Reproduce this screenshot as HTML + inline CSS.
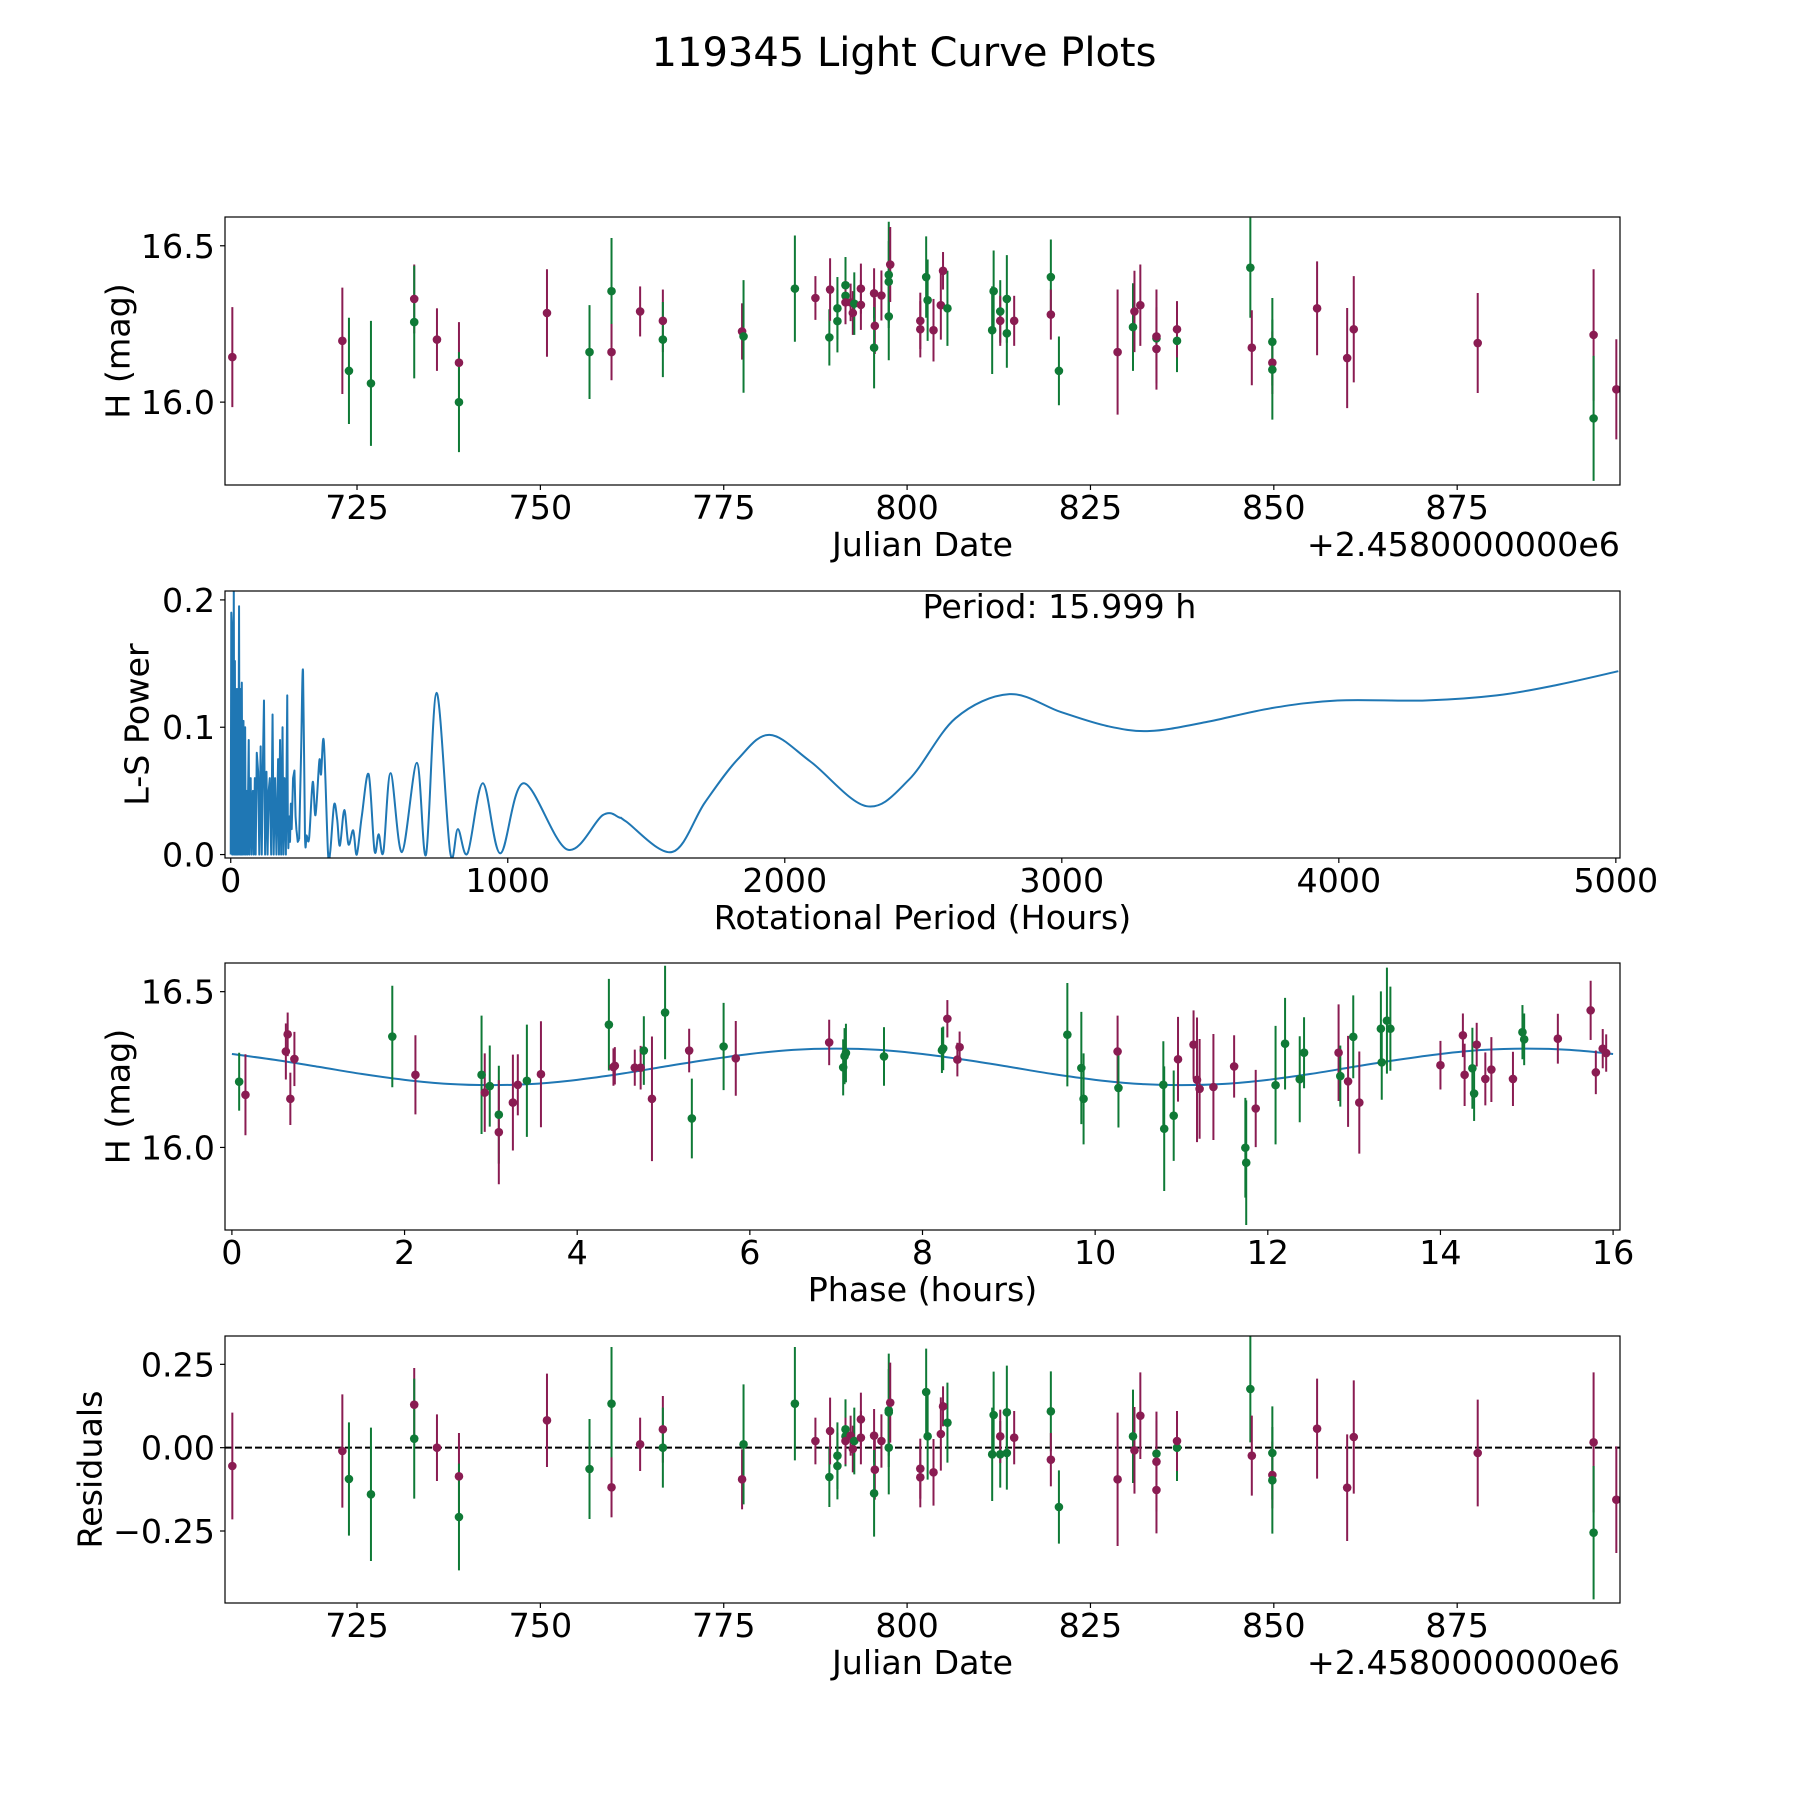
<!DOCTYPE html>
<html><head><meta charset="utf-8"><style>
html,body{margin:0;padding:0;background:#fff;}
svg{display:block;font-family:"DejaVu Sans","Liberation Sans",sans-serif;}
</style></head><body>
<svg id="fig" width="1800" height="1800" viewBox="0 0 1800 1800" xmlns="http://www.w3.org/2000/svg">
<rect width="1800" height="1800" fill="#fff"/>
<text x="904" y="66" font-size="40" text-anchor="middle">119345 Light Curve Plots</text>
</svg>
<script>
// ---------- DATA ----------
const dates = [708.0,723.0,723.9,726.9,732.8,732.8,735.9,738.9,738.9,750.9,756.7,759.7,759.7,763.6,766.7,766.7,777.5,777.7,784.7,787.5,789.4,789.5,790.5,790.5,791.6,791.6,791.6,792.3,792.6,792.8,793.7,793.7,795.5,795.6,795.5,796.5,797.5,797.5,797.5,797.7,801.8,801.8,802.6,802.8,803.6,804.6,804.9,805.5,811.8,811.6,812.7,812.7,813.6,813.6,814.6,819.6,819.6,820.7,828.7,830.8,831.0,831.8,834.0,834.0,834.0,836.8,836.8,846.8,847.0,849.8,849.8,849.8,855.9,860.0,860.9,877.8,893.6,893.6,896.7];
const mags = [16.144,16.196,16.10,16.06,16.33,16.256,16.20,16.126,16.0,16.285,16.16,16.355,16.16,16.29,16.26,16.20,16.226,16.21,16.363,16.333,16.207,16.36,16.259,16.30,16.374,16.34,16.319,16.319,16.285,16.315,16.311,16.363,16.348,16.244,16.174,16.341,16.274,16.385,16.407,16.44,16.26,16.233,16.40,16.326,16.23,16.31,16.42,16.30,16.355,16.23,16.29,16.26,16.33,16.22,16.26,16.40,16.28,16.10,16.16,16.24,16.29,16.31,16.204,16.21,16.17,16.196,16.233,16.43,16.174,16.193,16.126,16.104,16.30,16.141,16.233,16.189,16.215,15.948,16.041];
const errs = [.16,.17,.17,.20,.11,.18,.10,.13,.16,.14,.15,.17,.09,.08,.10,.12,.09,.18,.17,.07,.09,.10,.10,.10,.09,.09,.07,.06,.07,.10,.08,.08,.08,.09,.13,.08,.14,.13,.17,.12,.09,.09,.13,.13,.10,.11,.06,.12,.13,.14,.10,.08,.14,.11,.08,.12,.08,.11,.20,.14,.13,.13,.10,.15,.13,.10,.09,.16,.12,.14,.10,.16,.15,.16,.17,.16,.21,.20,.16];
const bands = ["M","M","G","G","M","G","M","M","G","M","G","G","M","M","M","G","M","G","G","M","G","M","G","G","G","G","M","M","M","G","M","M","M","M","G","M","G","G","G","M","M","M","G","G","M","M","M","G","G","G","G","M","G","G","M","G","M","G","M","G","M","M","G","M","M","G","M","G","M","G","M","G","M","M","M","M","M","G","M"];
const residuals = [-0.055,-0.01,-0.094,-0.14,0.129,0.027,0.0,-0.086,-0.208,0.082,-0.064,0.132,-0.119,0.01,0.055,0.0,-0.095,0.01,0.132,0.02,-0.088,0.05,-0.055,-0.024,0.055,0.034,0.02,0.036,-0.004,0.02,0.03,0.085,0.036,-0.066,-0.137,0.02,0.0,0.106,0.112,0.135,-0.063,-0.089,0.167,0.034,-0.074,0.041,0.124,0.075,0.098,-0.02,-0.02,0.034,0.106,-0.016,0.03,0.109,-0.036,-0.178,-0.095,0.034,-0.008,0.096,-0.018,-0.042,-0.127,0.0,0.02,0.176,-0.024,-0.016,-0.082,-0.098,0.057,-0.12,0.032,-0.016,0.016,-0.255,-0.156];

const phases = [0.084,0.157,0.625,0.646,0.724,0.677,1.858,2.126,2.892,2.929,2.987,3.092,3.092,3.255,3.312,3.417,3.58,4.367,4.436,4.42,4.667,4.735,4.772,4.866,5.018,5.297,5.328,5.696,5.837,6.919,7.081,7.097,7.113,7.554,8.225,8.24,8.288,8.404,8.43,9.678,9.84,9.866,10.26,10.27,10.79,10.80,10.91,10.96,11.14,11.18,11.21,11.37,11.61,11.74,11.75,11.86,12.09,12.20,12.37,12.42,12.82,12.84,12.93,12.99,13.06,13.32,13.31,13.38,13.42,14.0,14.26,14.28,14.37,14.39,14.42,14.52,14.59,14.84,14.95,14.97,15.36,15.74,15.80,15.88,15.92];
const phaseMags = [16.211,16.169,16.308,16.363,16.284,16.156,16.356,16.233,16.233,16.176,16.197,16.105,16.049,16.144,16.201,16.214,16.235,16.394,16.262,16.258,16.256,16.256,16.311,16.156,16.433,16.311,16.093,16.324,16.286,16.337,16.257,16.293,16.303,16.292,16.312,16.318,16.413,16.282,16.322,16.362,16.255,16.156,16.308,16.191,16.201,16.06,16.102,16.283,16.33,16.217,16.188,16.194,16.26,15.999,15.951,16.125,16.2,16.333,16.219,16.304,16.304,16.229,16.212,16.355,16.144,16.273,16.381,16.407,16.381,16.264,16.36,16.233,16.254,16.173,16.33,16.22,16.25,16.22,16.37,16.347,16.349,16.44,16.241,16.317,16.303];
const phaseErrs = [.093,.13,.09,.07,.087,.084,.163,.127,.19,.126,.13,.157,.167,.154,.098,.18,.17,.147,.06,.06,.058,.07,.11,.2,.15,.07,.128,.14,.12,.073,.09,.09,.094,.094,.073,.07,.06,.054,.05,.166,.18,.146,.115,.127,.14,.2,.145,.136,.11,.2,.16,.17,.1,.16,.2,.124,.19,.147,.138,.114,.155,.098,.146,.133,.164,.12,.12,.17,.135,.078,.07,.1,.13,.088,.07,.085,.104,.087,.087,.083,.08,.095,.07,.063,.06];
const phaseBands = ["G","M","M","M","M","M","G","M","G","M","G","G","M","M","M","G","M","G","M","M","M","M","G","M","G","M","G","G","M","M","G","G","G","G","G","G","M","M","M","G","G","G","M","G","G","G","G","M","M","M","M","M","M","G","G","M","G","G","G","G","M","G","M","G","M","G","G","G","G","M","M","M","G","G","M","M","M","M","G","G","M","M","M","M","M"];

const curvePhase = [0,0.5,1,1.5,2,2.5,3,3.5,4,4.5,5,5.5,6,6.5,7,7.5,8,8.5,9,9.5,10,10.5,11,11.5,12,12.5,13,13.5,14,14.5,15,15.5,16];
const curveMag = [16.300,16.281,16.259,16.236,16.217,16.204,16.200,16.204,16.217,16.236,16.259,16.281,16.300,16.313,16.317,16.313,16.300,16.281,16.259,16.236,16.217,16.204,16.200,16.204,16.217,16.236,16.259,16.281,16.300,16.313,16.317,16.313,16.300];

const lsPeriod = [0,2,4,5,7,9,11,13,15,17,20,22,25,27,30,32,35,37,40,42,46,48,52,54,57,60,65,67,72,75,80,83,87,90,94,99,103,108,112,116,120,124,129,133,137,141,146,151,155,160,165,171,174,178,182,187,190,194,199,204,206,208,211,214,217,220,225,230,234,237,242,247,254,261,268,274,283,296,306,320,326,336,351,359,373,384,394,410,425,442,455,473,498,519,534,551,577,618,672,705,743,792,820,855,910,973,1057,1214,1343,1404,1427,1593,1712,1831,1945,2093,2295,2449,2616,2811,2996,3163,3317,3520,3757,3995,4312,4570,4783,5009];
const lsPower = [0,0.19,0.18,0.0,0.17,0.0,0.21,0.0,0.152,0.0,0.13,0.0,0.13,0.0,0.195,0.0,0.13,0.0,0.135,0.0,0.105,0.0,0.1,0.0,0.05,0.0,0.09,0.0,0.06,0.0,0.05,0.0,0.06,0.0,0.08,0.065,0.0,0.085,0.0,0.07,0.121,0.0,0.065,0.0,0.05,0.06,0.0,0.11,0.0,0.06,0.0,0.075,0.0,0.09,0.0,0.1,0.0,0.06,0.0,0.125,0.03,0.005,0.03,0.01,0.04,0.02,0.06,0.066,0.03,0.02,0.01,0.012,0.08,0.144,0.015,0.015,0.013,0.057,0.031,0.074,0.063,0.089,0.002,0.002,0.039,0.028,0.007,0.035,0.008,0.019,0.0,0.03,0.063,0.003,0.016,0.002,0.064,0.002,0.072,0.0,0.127,0.002,0.020,0.001,0.056,0.001,0.056,0.004,0.031,0.029,0.026,0.002,0.041,0.075,0.094,0.073,0.038,0.059,0.107,0.126,0.112,0.101,0.097,0.104,0.115,0.121,0.121,0.125,0.133,0.144];

const xTicksJD = [725,750,775,800,825,850,875];
const yTicksMag = [16.0,16.5];
const yTickLabelsMag = ["16.0","16.5"];
const xTicksLS = [0,1000,2000,3000,4000,5000];
const yTicksLS = [0,0.1,0.2];
const yTickLabelsLS = ["0.0","0.1","0.2"];
const xTicksPhase = [0,2,4,6,8,10,12,14,16];
const yTicksRes = [-0.25,0,0.25];
const yTickLabelsRes = ["\u22120.25","0.00","0.25"];

// ---------- DRAW ----------
const NS="http://www.w3.org/2000/svg";
const svg=document.getElementById('fig');
const COL={M:"#8a1c52",G:"#0f7a36"};
const L=225,R=1620,FS=33.3;
function mk(tag,attrs,parent){const e=document.createElementNS(NS,tag);for(const k in attrs)e.setAttribute(k,attrs[k]);(parent||svg).appendChild(e);return e;}
function lin(d0,d1,p0,p1){return v=>p0+(v-d0)/(d1-d0)*(p1-p0);}
function splinePath(pts){
  let d='M'+pts[0][0].toFixed(2)+','+pts[0][1].toFixed(2);
  for(let i=0;i<pts.length-1;i++){
    const p0=pts[Math.max(0,i-1)],p1=pts[i],p2=pts[i+1],p3=pts[Math.min(pts.length-1,i+2)];
    const c1=[p1[0]+(p2[0]-p0[0])/6,p1[1]+(p2[1]-p0[1])/6];
    const c2=[p2[0]-(p3[0]-p1[0])/6,p2[1]-(p3[1]-p1[1])/6];
    d+=' C'+c1[0].toFixed(2)+','+c1[1].toFixed(2)+' '+c2[0].toFixed(2)+','+c2[1].toFixed(2)+' '+p2[0].toFixed(2)+','+p2[1].toFixed(2);
  }
  return d;
}

function axes(name,top,bot,xd,yd){
  const g=mk('g',{});
  
  
  const cp=mk('clipPath',{id:'clip-'+name},g);
  mk('rect',{x:L,y:top,width:R-L,height:bot-top},cp);
  const plot=mk('g',{'clip-path':'url(#clip-'+name+')'},g);
  
  
  return {g,plot,top,bot,x:lin(xd[0],xd[1],L,R),y:lin(yd[0],yd[1],bot,top)};
}
function frame(a){
  const f=mk('rect',{x:L,y:a.top,width:R-L,height:a.bot-a.top,fill:'none',stroke:'#000','stroke-width':1.2},a.g);
  
  
}
function xticks(a,ticks,labels){
  ticks.forEach((t,i)=>{const px=a.x(t);
    mk('line',{x1:px,x2:px,y1:a.bot,y2:a.bot+5,stroke:'#000','stroke-width':1.2},a.g);
    const tx=mk('text',{x:px,y:a.bot+34,'font-size':FS,'text-anchor':'middle'},a.g);
    
    
    tx.textContent=labels?labels[i]:String(t);});
}
function yticks(a,ticks,labels){
  ticks.forEach((t,i)=>{const py=a.y(t);
    mk('line',{x1:L-5,x2:L,y1:py,y2:py,stroke:'#000','stroke-width':1.2},a.g);
    const tx=mk('text',{x:L-10,y:py+12,'font-size':FS,'text-anchor':'end'},a.g);
    
    
    tx.textContent=labels[i];});
}
function xlabel(a,txt,name){
  const t=mk('text',{x:(L+R)/2,y:a.bot+71,'font-size':FS,'text-anchor':'middle'},a.g);
  
  
  t.textContent=txt;
}
function offset(a){
  const t=mk('text',{x:R,y:a.bot+71,'font-size':FS,'text-anchor':'end'},a.g);
  
  
  t.textContent='+2.4580000000e6';
}
function ylabel(a,txt,cx,name){
  const cy=(a.top+a.bot)/2;
  const t=mk('text',{x:cx,y:cy,'font-size':FS,'text-anchor':'middle','dominant-baseline':'central',transform:'rotate(-90 '+cx+' '+cy+')'},a.g);
  
  
  t.textContent=txt;
}
function errpts(a,xs,ys,es,bs,name){
  xs.forEach((xv,i)=>{const c=COL[bs[i]];const px=a.x(xv);
    const ln=mk('line',{x1:px,x2:px,y1:a.y(ys[i]-es[i]),y2:a.y(ys[i]+es[i]),stroke:c,'stroke-width':2},a.plot);
    
    
  });
  xs.forEach((xv,i)=>{const c=COL[bs[i]];
    const p=mk('circle',{cx:a.x(xv),cy:a.y(ys[i]),r:4.3,fill:c},a.plot);
    
    
  });
}

// Panel 1: light curve
const a1=axes('light-curve-panel',217,485,[707.0,897.2],[15.735,16.592]);
errpts(a1,dates,mags,errs,bands,'observation');
frame(a1);xticks(a1,xTicksJD);yticks(a1,yTicksMag,yTickLabelsMag);
xlabel(a1,'Julian Date','x-axis-title');offset(a1);ylabel(a1,'H (mag)',118,'y-axis-title');

// Panel 2: periodogram
const a2=axes('periodogram-panel',591,858,[-20.7,5015],[-0.0027,0.207]);
const spikePts=[],smoothPts=[];
lsPeriod.forEach((p,i)=>{const pt=[a2.x(p),a2.y(lsPower[i])];
  if(p<=250)spikePts.push(pt);
  if(p>=247)smoothPts.push(pt);});
const pl=mk('polyline',{points:spikePts.map(p=>p[0].toFixed(2)+','+p[1].toFixed(2)).join(' '),fill:'none',stroke:'#1f77b4','stroke-width':2,'stroke-linejoin':'round'},a2.plot);


const sp=mk('path',{d:splinePath(smoothPts),fill:'none',stroke:'#1f77b4','stroke-width':2},a2.plot);


frame(a2);xticks(a2,xTicksLS);yticks(a2,yTicksLS,yTickLabelsLS);
xlabel(a2,'Rotational Period (Hours)','x-axis-title');ylabel(a2,'L-S Power',137,'y-axis-title');
const pt=mk('text',{x:(L+R)/2,y:618,'font-size':FS},a2.g);


pt.textContent='Period: 15.999 h';

// Panel 3: phased curve
const a3=axes('phase-panel',963,1230,[-0.08,16.08],[15.735,16.592]);
const cv=mk('path',{d:splinePath(curvePhase.map((p,i)=>[a3.x(p),a3.y(curveMag[i])])),fill:'none',stroke:'#1f77b4','stroke-width':2},a3.plot);


errpts(a3,phases,phaseMags,phaseErrs,phaseBands,'phased');
frame(a3);xticks(a3,xTicksPhase);yticks(a3,yTicksMag,yTickLabelsMag);
xlabel(a3,'Phase (hours)','x-axis-title');ylabel(a3,'H (mag)',118,'y-axis-title');

// Panel 4: residuals
const a4=axes('residuals-panel',1336,1603,[707.0,897.2],[-0.466,0.335]);
const zl=mk('line',{x1:L,x2:R,y1:a4.y(0),y2:a4.y(0),stroke:'#000','stroke-width':2,'stroke-dasharray':'7,3'},a4.plot);


errpts(a4,dates,residuals,errs,bands,'residual');
frame(a4);xticks(a4,xTicksJD);yticks(a4,yTicksRes,yTickLabelsRes);
xlabel(a4,'Julian Date','x-axis-title');offset(a4);ylabel(a4,'Residuals',90,'y-axis-title');
</script>
</body></html>
